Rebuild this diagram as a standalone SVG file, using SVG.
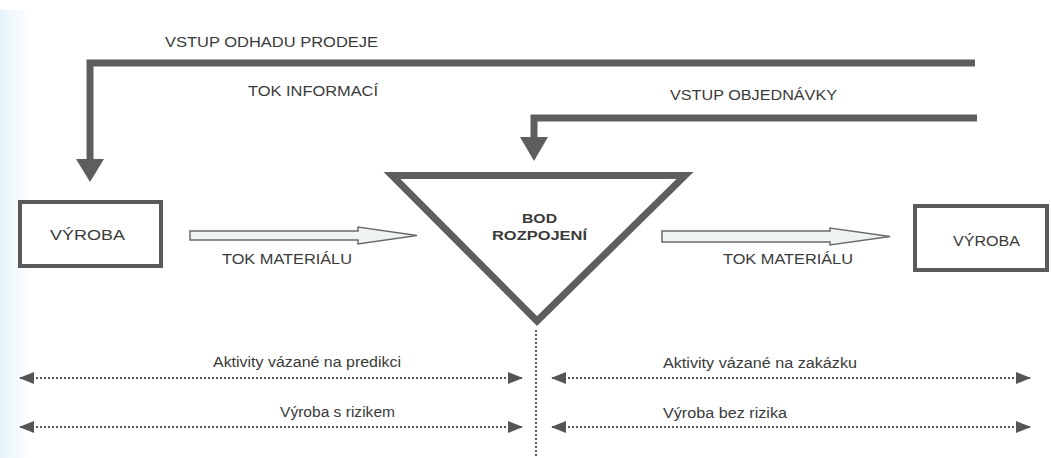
<svg xmlns="http://www.w3.org/2000/svg" width="1051" height="458" viewBox="0 0 1051 458">
<defs>
<linearGradient id="scan" x1="0" y1="0" x2="1" y2="0">
<stop offset="0" stop-color="#e6f3fb"/>
<stop offset="1" stop-color="#ffffff"/>
</linearGradient>
<marker id="ah" viewBox="0 0 15 12" refX="14" refY="6" markerWidth="15" markerHeight="12" markerUnits="userSpaceOnUse" orient="auto-start-reverse">
<path d="M0,0 L15,6 L0,12 Z" fill="#555"/>
</marker>
<style>
.t{font-family:"Liberation Sans",Arial,sans-serif;fill:#3a3a3a;}
.cap{font-size:14px;}
.b{font-weight:bold;font-size:13.5px;}
.s{font-size:15.5px;}
.thick{fill:none;stroke:#5e5e5e;stroke-width:7;stroke-linejoin:miter;}
.head{fill:#5e5e5e;}
.box{fill:#fff;stroke:#5a5a5a;stroke-width:4;}
.hollow{fill:#eef4f2;stroke:#6a6a6a;stroke-width:1.5;}
.dot{fill:none;stroke:#555;stroke-width:2;stroke-dasharray:2,2;}
</style>
</defs>
<rect x="0" y="0" width="1051" height="458" fill="#fff"/>
<rect x="0" y="10" width="30" height="448" fill="url(#scan)"/>

<g id="connectors">
<polyline class="thick" points="975,63 90,63 90,160"/>
<polygon class="head" points="76,159 104,159 90,182"/>
<polyline class="thick" points="977,118 534,118 534,138"/>
<polygon class="head" points="520,137 548,137 534,161"/>
<path class="hollow" d="M190,231 H358 V227 L417,235.5 L358,244 V240 H190 Z"/>
<path class="hollow" d="M662,231 H830 V228 L890,236.5 L830,245 V242 H662 Z"/>
<line class="dot" x1="536" y1="330" x2="536" y2="458"/>
<line class="dot" x1="20" y1="378" x2="522" y2="378" marker-start="url(#ah)" marker-end="url(#ah)"/>
<line class="dot" x1="20" y1="427" x2="522" y2="427" marker-start="url(#ah)" marker-end="url(#ah)"/>
<line class="dot" x1="552" y1="378" x2="1030" y2="378" marker-start="url(#ah)" marker-end="url(#ah)"/>
<line class="dot" x1="552" y1="427" x2="1030" y2="427" marker-start="url(#ah)" marker-end="url(#ah)"/>
</g>

<g id="labels">
<text class="t cap" x="165" y="47" textLength="213" lengthAdjust="spacingAndGlyphs">VSTUP ODHADU PRODEJE</text>
<text class="t cap" x="248" y="96" textLength="130" lengthAdjust="spacingAndGlyphs">TOK INFORMACÍ</text>
<text class="t cap" x="670" y="100" textLength="167" lengthAdjust="spacingAndGlyphs">VSTUP OBJEDNÁVKY</text>
<text class="t cap" x="222" y="264" textLength="130" lengthAdjust="spacingAndGlyphs">TOK MATERIÁLU</text>
<text class="t cap" x="723" y="264" textLength="130" lengthAdjust="spacingAndGlyphs">TOK MATERIÁLU</text>
<text class="t s" x="213" y="367" textLength="188" lengthAdjust="spacingAndGlyphs">Aktivity vázané na predikci</text>
<text class="t s" x="280" y="417" textLength="115" lengthAdjust="spacingAndGlyphs">Výroba s rizikem</text>
<text class="t s" x="663" y="368" textLength="194" lengthAdjust="spacingAndGlyphs">Aktivity vázané na zakázku</text>
<text class="t s" x="663" y="418" textLength="124" lengthAdjust="spacingAndGlyphs">Výroba bez rizika</text>
</g>

<g id="vyroba-left">
<rect class="box" x="20" y="202" width="141" height="64"/>
<text class="t cap" x="50" y="240" textLength="75" lengthAdjust="spacingAndGlyphs">VÝROBA</text>
</g>

<g id="bod-rozpojeni">
<polygon points="392,175.5 685,175.5 537,321" fill="#fff" stroke="#5e5e5e" stroke-width="7" stroke-linejoin="miter"/>
<text class="t b" x="522" y="223" textLength="35" lengthAdjust="spacingAndGlyphs">BOD</text>
<text class="t b" x="492" y="240" textLength="95" lengthAdjust="spacingAndGlyphs">ROZPOJENÍ</text>
</g>

<g id="vyroba-right">
<rect class="box" x="915" y="206" width="132" height="64"/>
<text class="t cap" x="953" y="246" textLength="67" lengthAdjust="spacingAndGlyphs">VÝROBA</text>
</g>
</svg>
